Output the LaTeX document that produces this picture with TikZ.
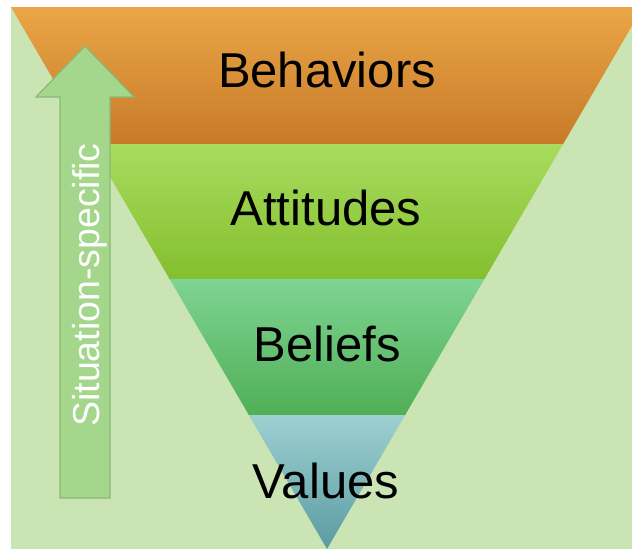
\documentclass[tikz,border=0pt]{standalone}
\usepackage{fontspec}
\setmainfont{Liberation Sans}
\definecolor{bgGreen}{HTML}{CAE4B3}
\definecolor{behTop}{HTML}{EAA646}
\definecolor{behBot}{HTML}{C87A29}
\definecolor{attTop}{HTML}{A8DC5E}
\definecolor{attBot}{HTML}{84BF2E}
\definecolor{belTop}{HTML}{7ED492}
\definecolor{belBot}{HTML}{50AF56}
\definecolor{valTop}{HTML}{9ED0D1}
\definecolor{valBot}{HTML}{5A9CA2}
\definecolor{arrowFill}{HTML}{A4D68B}
\definecolor{arrowEdge}{HTML}{88B975}
\tikzset{
  level/.style={font=\fontsize{49}{52}\selectfont, text=black, inner sep=0pt, anchor=base},
  sidelabel/.style={font=\fontsize{37.5}{40}\selectfont, text=white, inner sep=0pt, rotate=90, anchor=base},
}
\begin{document}
\begin{tikzpicture}[x=1pt,y=-1pt]
  \useasboundingbox (0,0) rectangle (632,549);
  % page background
  \fill[white] (0,0) rectangle (632,549);
  \fill[bgGreen] (11,7) rectangle (632,549);

  % inverted pyramid, four horizontal bands
  \begin{scope}
    \clip (11,7) rectangle (632,549);
    \clip (11,7) -- (643,7) -- (327,549) -- cycle;
    \shade[top color=behTop, bottom color=behBot] (0,7) rectangle (650,144);
    \shade[top color=attTop, bottom color=attBot] (0,144) rectangle (650,279);
    \shade[top color=belTop, bottom color=belBot] (0,279) rectangle (650,415);
    \shade[top color=valTop, bottom color=valBot] (0,415) rectangle (650,549);
  \end{scope}

  % band labels
  \node[level] (behaviors) at (327,87) {Behaviors};
  \node[level] (attitudes) at (326,225) {Attitudes};
  \node[level] (beliefs)   at (327,361) {Beliefs};
  \node[level] (values)    at (326,498) {Values};

  % upward arrow on the left
  \draw[fill=arrowFill, draw=arrowEdge, line width=1.2pt, line join=miter]
    (60,498) -- (60,97) -- (36,97) -- (85,46) -- (134,97) -- (110,97) -- (110,498) -- cycle;
  \node[sidelabel] (situation) at (99.5,285) {Situation-specific};
\end{tikzpicture}
\end{document}
